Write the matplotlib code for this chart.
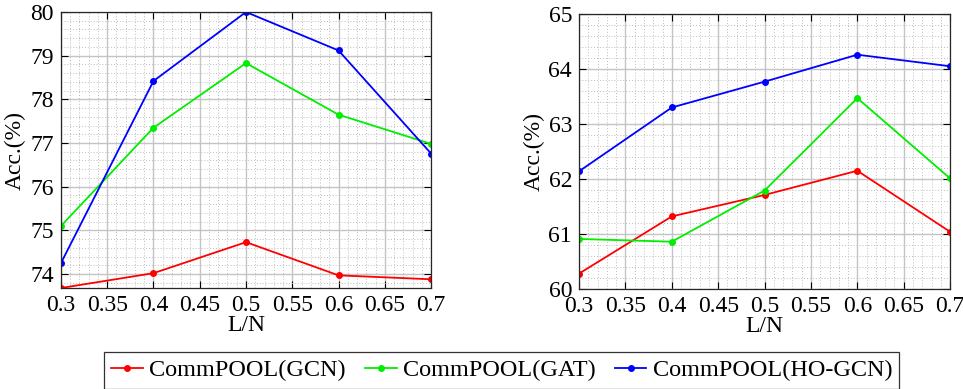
import matplotlib
matplotlib.use("Agg")
import matplotlib.pyplot as plt
from matplotlib.ticker import MultipleLocator

plt.rcParams['font.family'] = ['Liberation Serif', 'DejaVu Serif']

ratio = [0.3, 0.4, 0.5, 0.6, 0.7]
labels = ['CommPOOL(GCN)', 'CommPOOL(GAT)', 'CommPOOL(HO-GCN)']
colors = ['#ff0000', '#00ee00', '#0000ff']

# left panel
left_gcn = [73.68, 74.02, 74.73, 73.97, 73.88]
left_gat = [75.10, 77.35, 78.83, 77.65, 76.98]
left_hogcn = [74.25, 78.42, 80.00, 79.12, 76.76]

# right panel
right_gcn = [60.28, 61.32, 61.71, 62.15, 61.04]
right_gat = [60.91, 60.86, 61.79, 63.47, 62.01]
right_hogcn = [62.14, 63.30, 63.77, 64.26, 64.05]

fig = plt.figure(figsize=(9.63, 3.89), dpi=100)
ax1 = fig.add_axes([0.0633, 0.2596, 0.3843, 0.7095])
ax2 = fig.add_axes([0.6013, 0.2571, 0.3853, 0.7069])


def style(ax, series, ylim, yticks):
    lines = []
    for vals, c, lab in zip(series, colors, labels):
        ln, = ax.plot(ratio, vals, color=c, lw=1.3, marker='o', ms=4, label=lab)
        lines.append(ln)
    ax.set_xlim(0.3, 0.7)
    ax.set_ylim(*ylim)
    ax.set_xticks([0.3, 0.35, 0.4, 0.45, 0.5, 0.55, 0.6, 0.65, 0.7])
    ax.set_xticklabels(['0.3', '0.35', '0.4', '0.45', '0.5', '0.55', '0.6', '0.65', '0.7'])
    ax.set_yticks(yticks)
    ax.xaxis.set_minor_locator(MultipleLocator(0.01))
    ax.yaxis.set_minor_locator(MultipleLocator(0.2))
    ax.grid(which='major', color='#c4c4c4', lw=1.0, ls='-')
    ax.grid(which='minor', color='#bdbdbd', lw=0.7, ls=(0, (1, 2)))
    ax.set_axisbelow(True)
    ax.tick_params(which='both', direction='in', top=True, right=True, labelsize=17, pad=5)
    ax.tick_params(which='minor', length=0)
    ax.tick_params(which='major', length=5)
    for s in ax.spines.values():
        s.set_color('#262626')
        s.set_linewidth(0.9)
    ax.set_xlabel('L/N', fontsize=17, labelpad=-1)
    ax.set_ylabel('Acc.(%)', fontsize=17, labelpad=3)
    return lines


lines = style(ax1, [left_gcn, left_gat, left_hogcn], (73.68, 80.0), [74, 75, 76, 77, 78, 79, 80])
style(ax2, [right_gcn, right_gat, right_hogcn], (60, 65), [60, 61, 62, 63, 64, 65])

leg = fig.legend(handles=lines, loc='lower center', bbox_to_anchor=(0.521, -0.03), ncol=3,
                 fontsize=17.5, frameon=True, fancybox=False, edgecolor='black',
                 handlelength=1.3, handletextpad=0.25, columnspacing=0.8, borderpad=0.3)
leg.get_frame().set_linewidth(0.9)

fig.savefig('out.png', dpi=100)
